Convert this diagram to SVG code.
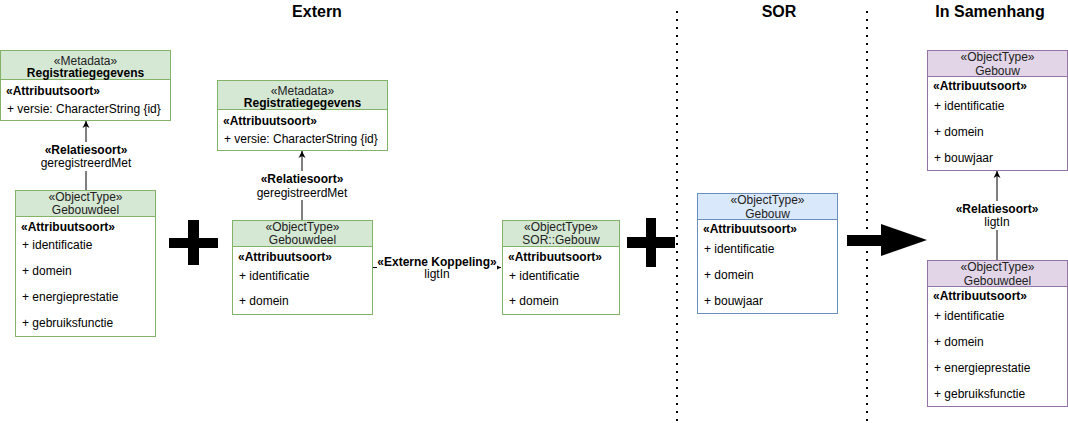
<svg xmlns="http://www.w3.org/2000/svg" width="1068" height="423" viewBox="0 0 1068 423">
<style>
text{font-family:"Liberation Sans",Arial,sans-serif;font-size:12px;fill:#000}
.c{text-anchor:middle}
.b{font-weight:bold}
.h{fill:#222}
.t{font-size:16px;font-weight:bold;text-anchor:middle}
.g{fill:#d5e8d4;stroke:#82b366}
.gb{fill:#fff;stroke:#82b366}
.bl{fill:#dae8fc;stroke:#6c8ebf}
.blb{fill:#fff;stroke:#6c8ebf}
.p{fill:#e1d5e7;stroke:#9673a6}
.pb{fill:#fff;stroke:#9673a6}
.ln{stroke:#000;stroke-width:1;fill:none}
.dot{stroke:#000;stroke-width:2;stroke-dasharray:2 6;fill:none}
</style>
<defs>
<marker id="ah" markerWidth="8" markerHeight="8" refX="7" refY="4" orient="auto" markerUnits="userSpaceOnUse">
<path d="M0,0.5 L7,4 L0,7.5 L2,4 Z" fill="#000"/>
</marker>
</defs>
<rect width="1068" height="423" fill="#fff"/>

<g id="titles">
<text class="t" x="317" y="17">Extern</text>
<text class="t" x="779" y="17">SOR</text>
<text class="t" x="990" y="17">In Samenhang</text>
</g>

<g id="separators">
<line class="dot" x1="677" y1="11" x2="677" y2="423"/>
<line class="dot" x1="867" y1="11" x2="867" y2="423"/>
</g>

<g id="connectors">
<line class="ln" x1="86" y1="190" x2="86" y2="121" marker-end="url(#ah)"/>
<rect x="38" y="142" width="96" height="29" fill="#fff"/>
<text class="c b" x="86" y="154">«Relatiesoort»</text>
<text class="c" x="86" y="167">geregistreerdMet</text>

<line class="ln" x1="302" y1="220.5" x2="302" y2="151" marker-end="url(#ah)"/>
<rect x="254" y="171" width="96" height="29" fill="#fff"/>
<text class="c b" x="302" y="182.5">«Relatiesoort»</text>
<text class="c" x="302" y="196.5">geregistreerdMet</text>

<line class="ln" x1="372" y1="267.5" x2="501" y2="267.5" marker-end="url(#ah)"/>
<rect x="377" y="254" width="120" height="28" fill="#fff"/>
<text class="c b" x="437" y="265.5">«Externe Koppeling»</text>
<text class="c" x="437" y="278">ligtIn</text>

<line class="ln" x1="997" y1="260.5" x2="997" y2="171" marker-end="url(#ah)"/>
<rect x="953" y="201" width="88" height="29" fill="#fff"/>
<text class="c b" x="997" y="213">«Relatiesoort»</text>
<text class="c" x="997" y="226">ligtIn</text>
</g>

<g id="plus1">
<rect x="188" y="220" width="11" height="45" fill="#000"/>
<rect x="169" y="238" width="49" height="10" fill="#000"/>
</g>
<g id="plus2">
<rect x="646" y="218" width="10" height="49" fill="#000"/>
<rect x="627" y="237" width="48" height="11" fill="#000"/>
</g>
<g id="bigarrow">
<rect x="847" y="235" width="35" height="11" fill="#000"/>
<polygon points="881,224 927,240 881,256" fill="#000"/>
</g>

<g id="meta1">
<rect class="gb" x="0.5" y="50.5" width="170" height="70"/>
<rect class="g" x="0.5" y="50.5" width="170" height="29"/>
<text class="c h" x="85.5" y="64.5">«Metadata»</text>
<text class="c b" x="85.5" y="77">Registratiegegevens</text>
<text class="b" x="6" y="94.5">«Attribuutsoort»</text>
<text x="7" y="113">+ versie: CharacterString {id}</text>
</g>

<g id="gebouwdeel1">
<rect class="gb" x="15.5" y="190.5" width="140" height="146"/>
<rect class="g" x="15.5" y="190.5" width="140" height="26"/>
<text class="c h" x="85.5" y="200.5">«ObjectType»</text>
<text class="c h" x="85.5" y="213.5">Gebouwdeel</text>
<text class="b" x="21" y="230.5">«Attribuutsoort»</text>
<text x="22" y="249">+ identificatie</text>
<text x="22" y="275">+ domein</text>
<text x="22" y="301">+ energieprestatie</text>
<text x="22" y="327">+ gebruiksfunctie</text>
</g>

<g id="meta2">
<rect class="gb" x="217.5" y="80.5" width="170" height="70"/>
<rect class="g" x="217.5" y="80.5" width="170" height="29"/>
<text class="c h" x="302.5" y="94.5">«Metadata»</text>
<text class="c b" x="302.5" y="107">Registratiegegevens</text>
<text class="b" x="223" y="124.5">«Attribuutsoort»</text>
<text x="224" y="143">+ versie: CharacterString {id}</text>
</g>

<g id="gebouwdeel2">
<rect class="gb" x="232.5" y="220.5" width="140" height="94"/>
<rect class="g" x="232.5" y="220.5" width="140" height="26"/>
<text class="c h" x="302.5" y="230.5">«ObjectType»</text>
<text class="c h" x="302.5" y="243.5">Gebouwdeel</text>
<text class="b" x="238" y="260.5">«Attribuutsoort»</text>
<text x="239" y="279.5">+ identificatie</text>
<text x="239" y="305">+ domein</text>
</g>

<g id="sorgebouw">
<rect class="gb" x="502.5" y="220.5" width="117" height="94"/>
<rect class="g" x="502.5" y="220.5" width="117" height="26"/>
<text class="c h" x="561" y="230.5">«ObjectType»</text>
<text class="c h" x="561" y="243.5">SOR::Gebouw</text>
<text class="b" x="508" y="260.5">«Attribuutsoort»</text>
<text x="509" y="279.5">+ identificatie</text>
<text x="509" y="305">+ domein</text>
</g>

<g id="gebouw-sor">
<rect class="blb" x="697.5" y="193.5" width="140" height="120"/>
<rect class="bl" x="697.5" y="193.5" width="140" height="26"/>
<text class="c h" x="767.5" y="204">«ObjectType»</text>
<text class="c h" x="767.5" y="217.5">Gebouw</text>
<text class="b" x="703" y="233">«Attribuutsoort»</text>
<text x="704" y="252.5">+ identificatie</text>
<text x="704" y="278.5">+ domein</text>
<text x="704" y="304.5">+ bouwjaar</text>
</g>

<g id="gebouw-samen">
<rect class="pb" x="927.5" y="50.5" width="140" height="120"/>
<rect class="p" x="927.5" y="50.5" width="140" height="26"/>
<text class="c h" x="997.5" y="61.3">«ObjectType»</text>
<text class="c h" x="997.5" y="74.5">Gebouw</text>
<text class="b" x="933" y="90">«Attribuutsoort»</text>
<text x="934" y="110">+ identificatie</text>
<text x="934" y="135.5">+ domein</text>
<text x="934" y="161.5">+ bouwjaar</text>
</g>

<g id="gebouwdeel-samen">
<rect class="pb" x="927.5" y="260.5" width="140" height="146"/>
<rect class="p" x="927.5" y="260.5" width="140" height="26"/>
<text class="c h" x="997.5" y="271.3">«ObjectType»</text>
<text class="c h" x="997.5" y="284.5">Gebouwdeel</text>
<text class="b" x="933" y="300">«Attribuutsoort»</text>
<text x="934" y="319.5">+ identificatie</text>
<text x="934" y="345.5">+ domein</text>
<text x="934" y="371.5">+ energieprestatie</text>
<text x="934" y="397.5">+ gebruiksfunctie</text>
</g>
</svg>
